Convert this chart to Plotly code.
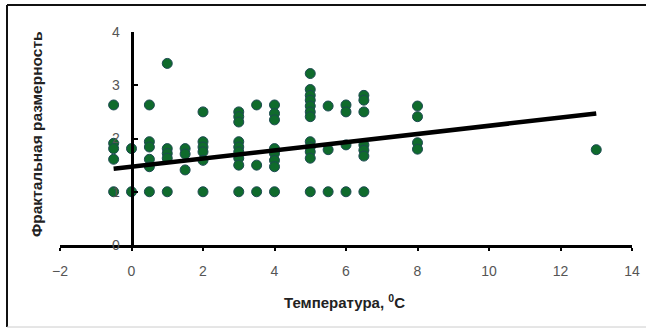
import plotly.graph_objects as go

# ---- data ----
temp_c = (
    [-0.5] * 5 + [0] * 2 + [0.5] * 6 + [1] * 5 + [1.5] * 3 + [2] * 6 +
    [3] * 9 + [3.5] * 3 + [4] * 8 + [5] * 12 + [5.5] * 3 + [6] * 4 +
    [6.5] * 7 + [8] * 4 + [13]
)
fractal_dim = (
    [2.63, 1.91, 1.81, 1.61, 1.0] +
    [1.81, 1.0] +
    [2.63, 1.94, 1.84, 1.61, 1.47, 1.0] +
    [3.41, 1.81, 1.72, 1.63, 1.0] +
    [1.81, 1.71, 1.41] +
    [2.50, 1.94, 1.84, 1.75, 1.59, 1.0] +
    [2.50, 2.41, 2.31, 1.94, 1.84, 1.75, 1.63, 1.50, 1.0] +
    [2.63, 1.50, 1.0] +
    [2.63, 2.47, 2.35, 1.81, 1.72, 1.59, 1.47, 1.0] +
    [3.22, 2.92, 2.81, 2.72, 2.61, 2.50, 2.41, 1.94, 1.84, 1.75, 1.63, 1.0] +
    [2.61, 1.79, 1.0] +
    [2.63, 2.50, 1.88, 1.0] +
    [2.81, 2.72, 2.50, 1.88, 1.78, 1.67, 1.0] +
    [2.61, 2.41, 1.92, 1.80] +
    [1.79]
)
trend_x = [-0.5, 13]
trend_y = [1.43, 2.47]

x_ticks = [-2, 0, 2, 4, 6, 8, 10, 12, 14]
y_ticks = [0, 1, 2, 3, 4]
x_title = "Температура, <sup>0</sup>C"
y_title = "Фрактальная размерность"

FONT = "Liberation Sans, Arial, sans-serif"

fig = go.Figure()
fig.add_trace(go.Scatter(
    x=temp_c, y=fractal_dim, mode="markers",
    marker=dict(size=10, color="#0f6b2c", line=dict(color="#1d4a52", width=1)),
    showlegend=False, hoverinfo="skip",
))
fig.add_trace(go.Scatter(
    x=trend_x, y=trend_y, mode="lines",
    line=dict(color="black", width=4.5),
    showlegend=False, hoverinfo="skip",
))

W, H = 646, 328
L, R, T, B = 60, 14, 32, 83
pw, ph = W - L - R, H - T - B

def px(xp):
    return (xp - L) / pw

def py(yp):
    return (H - B - yp) / ph

fig.update_layout(
    width=W, height=H, autosize=False,
    margin=dict(l=L, r=R, t=T, b=B, pad=0, autoexpand=False),
    paper_bgcolor="white", plot_bgcolor="white",
    font=dict(family=FONT, size=13, color="#333"),
    xaxis=dict(
        range=[x_ticks[0], x_ticks[-1]], tickvals=x_ticks,
        showgrid=False, zeroline=False, automargin=False,
        showline=True, linewidth=3, linecolor="black",
        ticks="outside", ticklen=3, tickwidth=2, tickcolor="black",
        ticklabelstandoff=8,
        tickfont=dict(family=FONT, size=14, color="#555"),
    ),
    yaxis=dict(
        range=[y_ticks[0], y_ticks[-1]], tickvals=y_ticks,
        showgrid=False, zeroline=False, automargin=False,
        anchor="free", position=(0 - x_ticks[0]) / (x_ticks[-1] - x_ticks[0]),
        showline=True, linewidth=3, linecolor="black",
        ticks="inside", ticklen=4, tickwidth=2, tickcolor="black",
        tickfont=dict(family=FONT, size=14, color="#555"),
        ticklabelstandoff=8,
    ),
    annotations=[
        dict(text=f"<b>{y_title}</b>", xref="paper", yref="paper",
             x=px(36), y=py(134), textangle=-90, showarrow=False,
             font=dict(family=FONT, size=15.5, color="#222"),
             xanchor="center", yanchor="middle"),
        dict(text=f"<b>{x_title}</b>", xref="paper", yref="paper",
             x=px(344), y=py(301), showarrow=False,
             font=dict(family=FONT, size=15, color="#222"),
             xanchor="center", yanchor="middle"),
    ],
    shapes=[
        dict(type="line", xref="paper", yref="paper",
             x0=px(7), x1=px(7), y0=py(5), y1=py(327),
             line=dict(color="#111", width=2)),
        dict(type="line", xref="paper", yref="paper",
             x0=px(7), x1=px(648), y0=py(5), y1=py(5),
             line=dict(color="#111", width=2)),
        dict(type="line", xref="paper", yref="paper",
             x0=px(7), x1=px(648), y0=py(327), y1=py(327),
             line=dict(color="#ccc", width=1)),
    ],
)

fig.write_html(
    "out.html",
    config={"displayModeBar": False},
    post_script=(
        "document.body.style.margin='0px';"
        "document.body.style.overflow='hidden';"
        "document.documentElement.style.overflow='hidden';"
    ),
)
